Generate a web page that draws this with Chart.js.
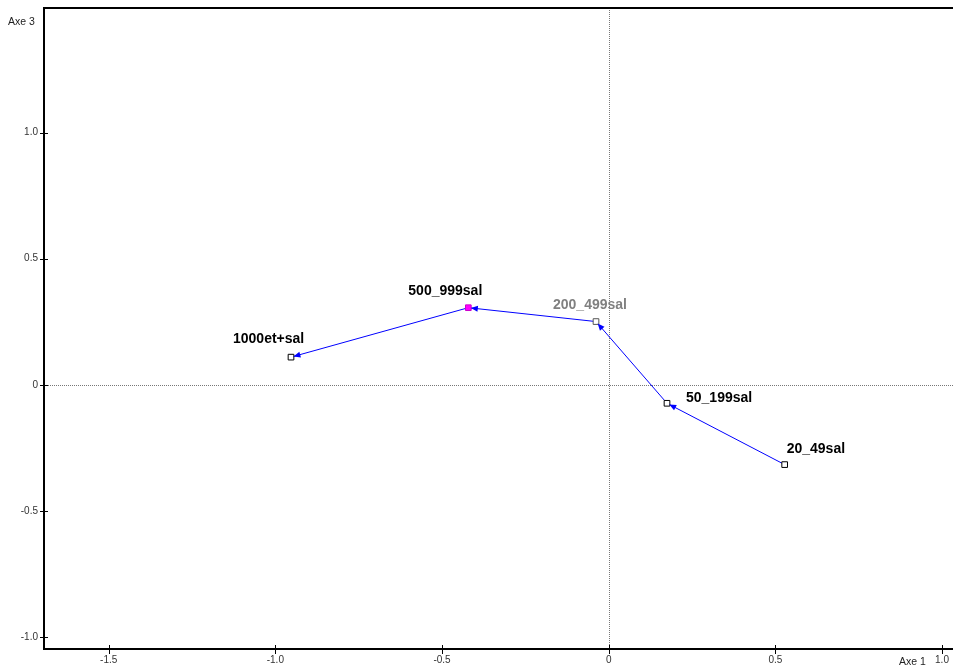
<!DOCTYPE html>
<html>
<head>
<meta charset="utf-8">
<script src="https://cdn.jsdelivr.net/npm/chart.js@4.4.1/dist/chart.umd.min.js"></script>
<style>
  html, body { margin: 0; padding: 0; background: #fff; }
  canvas { display: block; }
</style>
</head>
<body>
<canvas id="plan" width="953" height="669"></canvas>
<script>
// Modalités, dans l'ordre du chemin (flèches)
const categories = ["20_49sal", "50_199sal", "200_499sal", "500_999sal", "1000et+sal"];
const axe1 = [0.528, 0.175, -0.038, -0.421, -0.953];
const axe3 = [-0.316, -0.073, 0.251, 0.306, 0.110];
const xTicks = [-1.5, -1.0, -0.5, 0, 0.5, 1.0];
const yTicks = [-1.0, -0.5, 0, 0.5, 1.0];

// Étiquettes : décalage (bord gauche, milieu vertical) par rapport au point
const labelOffsets = [[2, -15], [19, -5.5], [-43, -16], [-60, -17], [-58, -17.5]];
const labelColors = ['#000', '#000', '#808080', '#000', '#000'];
const markerFill = ['#fff', '#fff', '#fff', '#ff00ff', '#fff'];
const markerBorder = ['#000', '#000', '#555', '#cc00cc', '#000'];

const FONT = 'Arial, "Liberation Sans", sans-serif';
const fmt = v => v === 0 ? '0' : v.toFixed(1);

function arrowHead(ctx, from, to, back, len, half) {
    const a = Math.atan2(to.y - from.y, to.x - from.x);
    const c = Math.cos(a), s = Math.sin(a);
    const tx = to.x - c * back, ty = to.y - s * back;
    ctx.beginPath();
    ctx.moveTo(tx, ty);
    ctx.lineTo(tx - len * c + half * s, ty - len * s - half * c);
    ctx.lineTo(tx - len * c - half * s, ty - len * s + half * c);
    ctx.closePath();
    ctx.fill();
}

// pas de marge automatique autour des étiquettes de graduation
function noPad(s) {
    s.paddingTop = 0; s.paddingBottom = 0;
    s.paddingLeft = 0; s.paddingRight = 0;
}

// --- Décor : axes de référence, flèches, étiquettes, cadre ---
const decor = {
    id: 'decor',
    beforeDatasetsDraw(chart) {
        const { ctx, chartArea: a, scales: { x, y } } = chart;
        const x0 = Math.round(x.getPixelForValue(0)) + 0.5;
        const y0 = Math.round(y.getPixelForValue(0)) + 0.5;
        ctx.save();
        ctx.strokeStyle = '#777';
        ctx.lineWidth = 1;
        ctx.setLineDash([1, 1]);
        ctx.beginPath();
        ctx.moveTo(x0, a.top); ctx.lineTo(x0, a.bottom);
        ctx.moveTo(a.left, y0); ctx.lineTo(a.right, y0);
        ctx.stroke();
        ctx.restore();
    },
    afterDatasetsDraw(chart) {
        const { ctx } = chart;
        const pts = chart.getDatasetMeta(0).data;
        ctx.save();
        ctx.fillStyle = '#0000ff';
        for (let i = 1; i < pts.length; i++) {
            arrowHead(ctx, pts[i - 1], pts[i], 2.5, 7, 3);
        }
        ctx.font = 'bold 14px ' + FONT;
        ctx.textAlign = 'left';
        ctx.textBaseline = 'middle';
        pts.forEach((p, i) => {
            ctx.fillStyle = labelColors[i];
            ctx.fillText(categories[i], p.x + labelOffsets[i][0], p.y + labelOffsets[i][1]);
        });
        ctx.restore();
    },
    afterDraw(chart) {
        const { ctx, chartArea: a, scales: { x, y } } = chart;
        ctx.save();
        ctx.strokeStyle = '#000';
        ctx.lineWidth = 2;
        ctx.beginPath();
        ctx.moveTo(a.left - 1, a.top); ctx.lineTo(a.right, a.top);
        ctx.stroke();
        // petites croix des graduations
        ctx.lineWidth = 1;
        ctx.beginPath();
        xTicks.forEach(v => {
            const px = Math.round(x.getPixelForValue(v)) + 0.5;
            ctx.moveTo(px, a.bottom - 4); ctx.lineTo(px, a.bottom + 5);
        });
        yTicks.forEach(v => {
            const py = Math.round(y.getPixelForValue(v)) + 0.5;
            ctx.moveTo(a.left - 4, py); ctx.lineTo(a.left + 4, py);
        });
        ctx.stroke();
        // titres des axes
        ctx.fillStyle = '#222';
        ctx.font = '10.5px ' + FONT;
        ctx.textBaseline = 'middle';
        ctx.textAlign = 'left';
        ctx.fillText('Axe 3', 8, 22);
        ctx.fillText('Axe 1', 899, 662);
        ctx.restore();
    }
};

const ctx = document.getElementById('plan').getContext('2d');
new Chart(ctx, {
    type: 'scatter',
    data: {
        datasets: [{
            data: axe1.map((v, i) => ({ x: v, y: axe3[i] })),
            showLine: true,
            borderColor: '#0000ff',
            borderWidth: 1,
            pointStyle: 'rect',
            pointRadius: 4,
            pointBorderWidth: 1,
            pointBackgroundColor: markerFill,
            pointBorderColor: markerBorder
        }]
    },
    options: {
        responsive: false,
        animation: false,
        layout: { autoPadding: false, padding: { top: 8, right: 0, bottom: 0, left: 0 } },
        plugins: { legend: { display: false }, tooltip: { enabled: false } },
        scales: {
            x: {
                type: 'linear',
                min: -1.694,
                max: 1.033,
                afterBuildTicks: s => { s.ticks = xTicks.map(v => ({ value: v })); },
                afterFit: s => { s.height = 20; noPad(s); },
                grid: { display: false, drawTicks: false },
                border: { display: true, color: '#000', width: 2 },
                ticks: {
                    padding: 5,
                    color: '#333',
                    font: { family: FONT, size: 10 },
                    maxRotation: 0,
                    callback: v => fmt(v)
                }
            },
            y: {
                type: 'linear',
                min: -1.047,
                max: 1.494,
                afterBuildTicks: s => { s.ticks = yTicks.map(v => ({ value: v })); },
                afterFit: s => { s.width = 44; noPad(s); },
                grid: { display: false, drawTicks: false },
                border: { display: true, color: '#000', width: 2 },
                ticks: {
                    padding: 6,
                    color: '#333',
                    font: { family: FONT, size: 10 },
                    callback: v => fmt(v)
                }
            }
        }
    },
    plugins: [decor]
});
</script>
</body>
</html>
